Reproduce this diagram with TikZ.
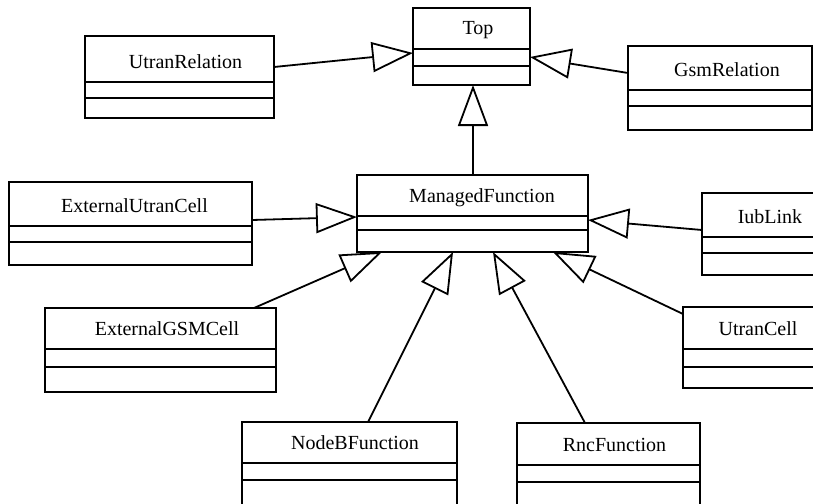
\documentclass[tikz,border=0pt]{standalone}
\usepackage{fontspec}
\setmainfont{Liberation Serif}
\usetikzlibrary{arrows.meta}
\tikzset{
  classbox/.style={draw, line width=1.8pt, rectangle, inner sep=0pt, outer sep=0pt},
  divider/.style={line width=1.8pt},
  classname/.style={anchor=base, inner sep=0pt, font=\fontsize{20}{24}\selectfont},
  inherits/.style={line width=1.8pt, -{Triangle[open, length=41pt, width=30pt]}},
}
% #1 name, #2..#5 box corners (x1,y1,x2,y2), #6 #7 compartment lines,
% #8 x of the class name, #9 class name
\newcommand\umlclass[9]{%
  \node[classbox, minimum width={(#4-#2)*1pt}, minimum height={(#5-#3)*1pt}]
    (#1) at ({(#2+#4)/2},{(#3+#5)/2}) {};
  \draw[divider] (#1.west |- 0,#6) -- (#1.east |- 0,#6);
  \draw[divider] (#1.west |- 0,#7) -- (#1.east |- 0,#7);
  \node[classname] (#1-name) at ({#8},{#6-14}) {#9};
}
\begin{document}
\begin{tikzpicture}[x=1pt,y=-1pt]
\useasboundingbox (0,0) rectangle (813,503);
\clip (0,0) rectangle (813,503);

% classes
\umlclass{top}{413}{8}{530}{85}{49}{66}{478}{Top}
\umlclass{ur}{85}{36}{274}{118}{82}{98}{185.5}{UtranRelation}
\umlclass{gr}{628}{46}{812}{130}{90}{106}{727}{GsmRelation}
\umlclass{mf}{357}{175}{588}{252}{216}{230}{482}{ManagedFunction}
\umlclass{euc}{9}{182}{252}{265}{226}{242}{134.5}{ExternalUtranCell}
\umlclass{iub}{702}{193}{840}{275}{237}{253}{770}{IubLink}
\umlclass{egc}{45}{308}{276}{392}{349}{367}{167}{ExternalGSMCell}
\umlclass{uc}{683}{307}{840}{388}{349}{367}{758}{UtranCell}
\umlclass{nb}{242}{422}{457}{530}{463}{480}{355}{NodeBFunction}
\umlclass{rnc}{517}{423}{700}{530}{465}{482}{614.5}{RncFunction}

% generalisations
\draw[inherits] (ur.east |- 0,67) -- (top.west |- 0,53);
\draw[inherits] (gr.west |- 0,73) -- (top.east |- 0,57);
\draw[inherits] (mf.north -| 473,0) -- (top.south -| 473,0);
\draw[inherits] (euc.east |- 0,220) -- (mf.west |- 0,217);
\draw[inherits] (iub.west |- 0,230) -- (mf.east |- 0,220);
\draw[inherits] (egc.north -| 254,0) -- (mf.south -| 382,0);
\draw[inherits] (nb.north -| 368,0) -- (mf.south -| 453,0);
\draw[inherits] (rnc.north -| 585,0) -- (mf.south -| 493,0);
\draw[inherits] (uc.west |- 0,314) -- (mf.south -| 553,0);
\end{tikzpicture}
\end{document}
